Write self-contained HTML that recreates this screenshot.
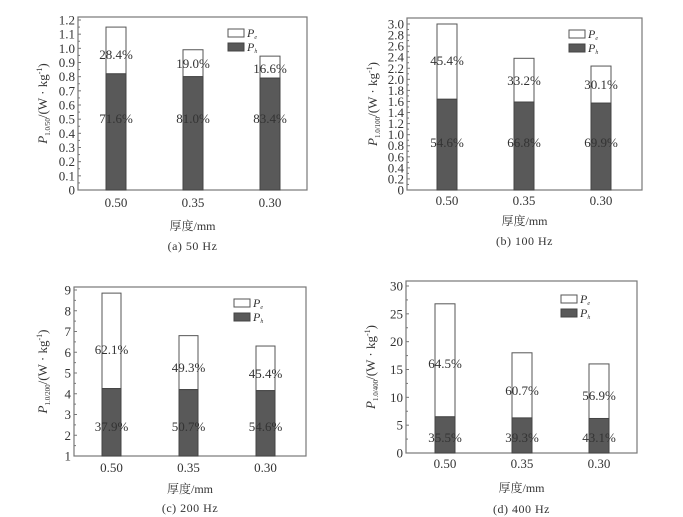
<!DOCTYPE html>
<html><head><meta charset="utf-8"><style>
html,body{margin:0;padding:0;background:#fff;}
svg{display:block;font-family:"Liberation Serif","Noto Serif CJK SC",serif;}
</style></head><body>
<svg id="fig" width="683" height="517" viewBox="0 0 683 517" xmlns="http://www.w3.org/2000/svg"></svg>
<script>
const categories = ["0.50","0.35","0.30"];
const totalA = [1.15, 0.99, 0.945];
const hystA = [0.82, 0.80, 0.79];
const pctTopA = ["28.4%","19.0%","16.6%"];
const pctBotA = ["71.6%","81.0%","83.4%"];
const ticksA = [0,0.1,0.2,0.3,0.4,0.5,0.6,0.7,0.8,0.9,1.0,1.1,1.2];
const totalB = [3.0, 2.38, 2.24];
const hystB = [1.64, 1.59, 1.57];
const pctTopB = ["45.4%","33.2%","30.1%"];
const pctBotB = ["54.6%","66.8%","69.9%"];
const ticksB = [0,0.2,0.4,0.6,0.8,1.0,1.2,1.4,1.6,1.8,2.0,2.2,2.4,2.6,2.8,3.0];
const totalC = [8.85, 6.8, 6.3];
const hystC = [4.25, 4.2, 4.15];
const pctTopC = ["62.1%","49.3%","45.4%"];
const pctBotC = ["37.9%","50.7%","54.6%"];
const ticksC = [1,2,3,4,5,6,7,8,9];
const totalD = [26.8, 18.0, 16.0];
const hystD = [6.5, 6.3, 6.2];
const pctTopD = ["64.5%","60.7%","56.9%"];
const pctBotD = ["35.5%","39.3%","43.1%"];
const ticksD = [0,5,10,15,20,25,30];

const NS="http://www.w3.org/2000/svg";
const fig=document.getElementById('fig');
function mk(tag,attrs,parent,text){const e=document.createElementNS(NS,tag);for(const k in attrs)e.setAttribute(k,attrs[k]);if(text!==undefined)e.textContent=text;(parent||fig).appendChild(e);return e;}

function panel(id,cfg,total,hyst,pTop,pBot,ticks){
  const g=mk('g',{});
  
  
  const y=v=>cfg.y0+(v-cfg.vmin)/(cfg.vmax-cfg.vmin)*(cfg.y1-cfg.y0);
  const box=mk('rect',{x:cfg.bx0,y:cfg.by0,width:cfg.bx1-cfg.bx0,height:cfg.by1-cfg.by0,fill:'none',stroke:'#777','stroke-width':1.2},g);
  
  
  ticks.forEach((t,i)=>{
    const yy=y(t);
    mk('line',{x1:cfg.bx0,x2:cfg.bx0+3,y1:yy,y2:yy,stroke:'#777'},g);
    const lbl=mk('text',{x:cfg.bx0-3,y:yy+4.5,'text-anchor':'end','font-size':cfg.fs,fill:'#333'},g,cfg.fmt(t));
    
    
    if(i<ticks.length-1){const ym=y((t+ticks[i+1])/2);mk('line',{x1:cfg.bx0,x2:cfg.bx0+2,y1:ym,y2:ym,stroke:'#777'},g);}
  });
  categories.forEach((c,i)=>{
    const x0=cfg.xs[i], w=cfg.bw;
    const r1=mk('rect',{x:x0,y:y(total[i]),width:w,height:y(hyst[i])-y(total[i]),fill:'#fff',stroke:'#555','stroke-width':1},g);
    
    
    const base=Math.max(cfg.vmin,0);
    const r2=mk('rect',{x:x0,y:y(hyst[i]),width:w,height:y(base)-y(hyst[i]),fill:'#595959',stroke:'#444','stroke-width':1},g);
    
    
    const cx=x0+w/2;
    const t1=mk('text',{x:cx,y:cfg.topY[i],'text-anchor':'middle','font-size':cfg.fs,fill:'#333'},g,pTop[i]);
    
    
    const t2=mk('text',{x:cx,y:cfg.botY,'text-anchor':'middle','font-size':cfg.fs,fill:'#333'},g,pBot[i]);
    
    
    const xl=mk('text',{x:cx,y:cfg.tickY,'text-anchor':'middle','font-size':13,fill:'#333'},g,c);
    
    
  });
  const xt=mk('text',{x:(cfg.bx0+cfg.bx1)/2,y:cfg.titleY,'text-anchor':'middle','font-size':12,fill:'#333'},g,'厚度/mm');
  
  
  const cap=mk('text',{x:(cfg.bx0+cfg.bx1)/2,y:cfg.capY,'text-anchor':'middle','font-size':12,fill:'#333','letter-spacing':'0.5'},g,cfg.caption);
  
  
  const yt=mk('text',{transform:`translate(${cfg.ytx},${(cfg.by0+cfg.by1)/2}) rotate(-90)`,'text-anchor':'middle','font-size':13,fill:'#333'},g);
  
  
  mk('tspan',{'font-style':'italic'},yt,'P');
  mk('tspan',{'font-size':7,dy:3},yt,cfg.sub);
  mk('tspan',{dy:-3},yt,'/(W · kg');
  mk('tspan',{'font-size':8,dy:-5},yt,'-1');
  mk('tspan',{dy:5},yt,')');
  const lg=mk('g',{},g);
  
  
  mk('rect',{x:cfg.lx,y:cfg.ly,width:16,height:8,fill:'#fff',stroke:'#555'},lg);
  const l1=mk('text',{x:cfg.lx+19,y:cfg.ly+8,'font-size':12,'font-style':'italic',fill:'#333'},lg,'P');
  mk('tspan',{'font-size':6,dy:2},l1,'e');
  mk('rect',{x:cfg.lx,y:cfg.ly+14,width:16,height:8,fill:'#595959',stroke:'#444'},lg);
  const l2=mk('text',{x:cfg.lx+19,y:cfg.ly+22,'font-size':12,'font-style':'italic',fill:'#333'},lg,'P');
  mk('tspan',{'font-size':6,dy:2},l2,'h');
}
const f1=v=>v.toFixed(1), f0=v=>String(v);
panel('a',{bx0:78,bx1:307,by0:17,by1:190,y0:190,y1:20,vmin:0,vmax:1.2,xs:[106,183,260],bw:20,fs:13,fmt:v=>v===0?'0':f1(v),topY:[59,68,73],botY:123,tickY:207,titleY:230,capY:250,caption:'(a) 50 Hz',ytx:47,sub:'1.0/50',lx:228,ly:29},totalA,hystA,pctTopA,pctBotA,ticksA);
panel('b',{bx0:407,bx1:642,by0:18,by1:190,y0:190,y1:24,vmin:0,vmax:3.0,xs:[437,514,591],bw:20,fs:13,fmt:v=>v===0?'0':f1(v),topY:[65,85,89],botY:147,tickY:205,titleY:225,capY:245,caption:'(b) 100 Hz',ytx:377,sub:'1.0/100',lx:569,ly:30},totalB,hystB,pctTopB,pctBotB,ticksB);
panel('c',{bx0:74,bx1:306,by0:287,by1:456,y0:456,y1:290,vmin:1,vmax:9,xs:[102,179,256],bw:19,fs:13,fmt:f0,topY:[354,372,378],botY:431,tickY:472,titleY:493,capY:512,caption:'(c) 200 Hz',ytx:47,sub:'1.0/200',lx:234,ly:299},totalC,hystC,pctTopC,pctBotC,ticksC);
panel('d',{bx0:406,bx1:637,by0:281,by1:453,y0:453,y1:286,vmin:0,vmax:30,xs:[435,512,589],bw:20,fs:13,fmt:f0,topY:[368,395,400],botY:442,tickY:468,titleY:492,capY:513,caption:'(d) 400 Hz',ytx:375,sub:'1.0/400',lx:561,ly:295},totalD,hystD,pctTopD,pctBotD,ticksD);
</script>
</body></html>
